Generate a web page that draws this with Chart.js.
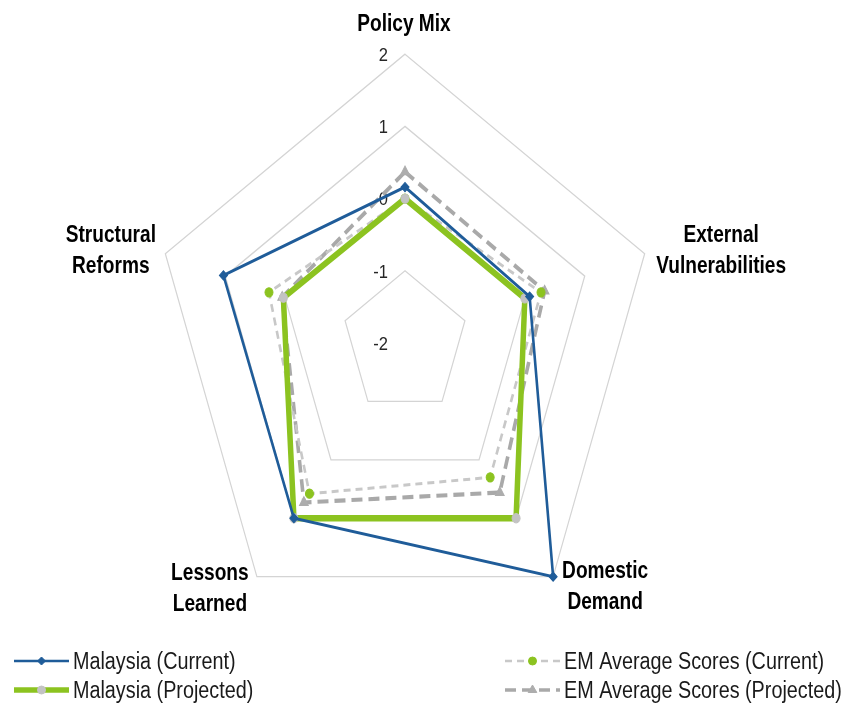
<!DOCTYPE html>
<html>
<head>
<meta charset="utf-8">
<script src="https://cdn.jsdelivr.net/npm/chart.js@4.4.1/dist/chart.umd.min.js"></script>
<style>
html,body{margin:0;padding:0;background:#ffffff;}
#wrap{width:845px;height:703px;position:relative;}
</style>
</head>
<body>
<div id="wrap"><canvas id="c" width="845" height="703"></canvas></div>
<script>
// ---------- data ----------
const categories = [["Policy Mix"], ["External", "Vulnerabilities"], ["Domestic", "Demand"], ["Lessons", "Learned"], ["Structural", "Reforms"]];
const seriesNames = ["Malaysia (Current)", "Malaysia (Projected)", "EM Average Scores (Current)", "EM Average Scores (Projected)"];
const malaysiaCurrent = [0.16, 0.08, 2.0, 1.0, 1.03];
const malaysiaProjected = [0.0, 0.0, 1.0, 1.0, 0.03];
const emCurrent = [0.0, 0.27, 0.30, 0.58, 0.27];
const emProjected = [0.37, 0.33, 0.56, 0.73, 0.05];
const tickMin = -2, tickMax = 2, tickStep = 1;

// ---------- layout / style ----------
const SY = 1.146;               // vertical stretch of the reference picture
const CX = 405, CY_REF = 343, RADIUS = 252;
const FONT = "'Liberation Sans', Arial, sans-serif";
const labelOffsets = [[-1, -23], [76.5, -12], [52, 1], [-47, 3], [-54.5, -12]];
const LABEL_LINE = 31.5;
const legendSlots = [[14, 661], [14, 690], [505, 661], [505, 690]];
const LEG_LEN = 55;

function drawText(ctx, text, x, y, size, weight, hs, align, color) {
  ctx.save();
  ctx.translate(x, y);
  ctx.scale(hs, 1);
  ctx.font = weight + ' ' + size + 'px ' + FONT;
  ctx.fillStyle = color;
  ctx.textAlign = align;
  ctx.textBaseline = 'alphabetic';
  ctx.fillText(text, 0, 0);
  ctx.restore();
}

function drawMarker(ctx, ds, x, y) {
  ctx.save();
  ctx.fillStyle = ds.pointBackgroundColor;
  ctx.strokeStyle = ds.pointBorderColor;
  ctx.lineWidth = ds.pointBorderWidth || 1;
  if (Chart.helpers && Chart.helpers.drawPoint) {
    Chart.helpers.drawPoint(ctx, {pointStyle: ds.pointStyle, radius: ds.pointRadius, rotation: 0, borderWidth: ds.pointBorderWidth || 1}, x, y);
  } else {
    ctx.beginPath(); ctx.arc(x, y, ds.pointRadius, 0, Math.PI * 2); ctx.fill();
  }
  ctx.restore();
}

const stretchPlugin = {
  id: 'stretch',
  beforeDraw(chart) {
    chart.ctx.save();
    chart.ctx.scale(1, SY);
  },
  beforeDatasetsDraw(chart) {
    const ctx = chart.ctx, s = chart.scales.r;
    ctx.save();
    ctx.scale(1, 1 / SY);
    s.ticks.forEach(t => {
      const y = (s.yCenter - s.getDistanceFromCenterForValue(t.value)) * SY;
      drawText(ctx, t.label, s.xCenter - 17, y + 0.36 * 19, 19, 'normal', 0.87, 'right', '#262626');
    });
    ctx.restore();
  },
  afterDraw(chart) {
    const ctx = chart.ctx, s = chart.scales.r;
    ctx.restore();
    // axis labels
    categories.forEach((lines, i) => {
      const p = s.getPointPosition(i, s.drawingArea);
      const vx = p.x, vy = p.y * SY;
      const o = labelOffsets[i];
      lines.forEach((ln, k) => drawText(ctx, ln, vx + o[0], vy + o[1] + k * LABEL_LINE, 24.5, 'bold', 0.78, 'center', '#000000'));
    });
    // legend
    chart.data.datasets.forEach((ds, i) => {
      const [x, y] = legendSlots[i];
      ctx.save();
      ctx.strokeStyle = ds.borderColor;
      ctx.lineWidth = ds.borderWidth;
      ctx.setLineDash(ds.borderDash || []);
      ctx.beginPath();
      ctx.moveTo(x, y);
      ctx.lineTo(x + LEG_LEN, y);
      ctx.stroke();
      ctx.restore();
      drawMarker(ctx, ds, x + LEG_LEN / 2, y);
      drawText(ctx, ds.label, x + LEG_LEN + 4, y + 0.36 * 23, 23, 'normal', 0.86, 'left', '#1a1a1a');
    });
  }
};

new Chart(document.getElementById('c'), {
  type: 'radar',
  data: {
    labels: categories,
    datasets: [
      {label: seriesNames[0], data: malaysiaCurrent, borderColor: '#1F5C99', borderWidth: 2.6, fill: false,
       pointStyle: 'rectRot', pointRadius: 4, pointBackgroundColor: '#1F5C99', pointBorderColor: '#1F5C99', pointBorderWidth: 1, order: 1},
      {label: seriesNames[1], data: malaysiaProjected, borderColor: '#8CC320', borderWidth: 5.5, fill: false,
       pointStyle: 'circle', pointRadius: 4, pointBackgroundColor: '#C3C3C3', pointBorderColor: '#C3C3C3', pointBorderWidth: 1, order: 2},
      {label: seriesNames[2], data: emCurrent, borderColor: '#C8C8C8', borderWidth: 2.6, borderDash: [7, 5], fill: false,
       pointStyle: 'circle', pointRadius: 4, pointBackgroundColor: '#8CC320', pointBorderColor: '#8CC320', pointBorderWidth: 1, order: 3},
      {label: seriesNames[3], data: emProjected, borderColor: '#A9A9A9', borderWidth: 3.6, borderDash: [11, 6], fill: false,
       pointStyle: 'triangle', pointRadius: 5, pointBackgroundColor: '#ADADAD', pointBorderColor: '#ADADAD', pointBorderWidth: 1, order: 4}
    ]
  },
  options: {
    responsive: false,
    animation: false,
    devicePixelRatio: 1,
    elements: {line: {tension: 0, borderJoinStyle: 'miter'}},
    plugins: {legend: {display: false}, tooltip: {enabled: false}},
    scales: {
      r: {
        min: tickMin, max: tickMax,
        ticks: {stepSize: tickStep, display: false},
        grid: {color: '#D4D4D4', lineWidth: 1.2},
        angleLines: {display: false},
        pointLabels: {display: false},
        afterFit(scale) {
          scale.xCenter = CX;
          scale.yCenter = CY_REF / SY;
          scale.drawingArea = RADIUS;
        }
      }
    }
  },
  plugins: [stretchPlugin]
});
</script>
</body>
</html>
